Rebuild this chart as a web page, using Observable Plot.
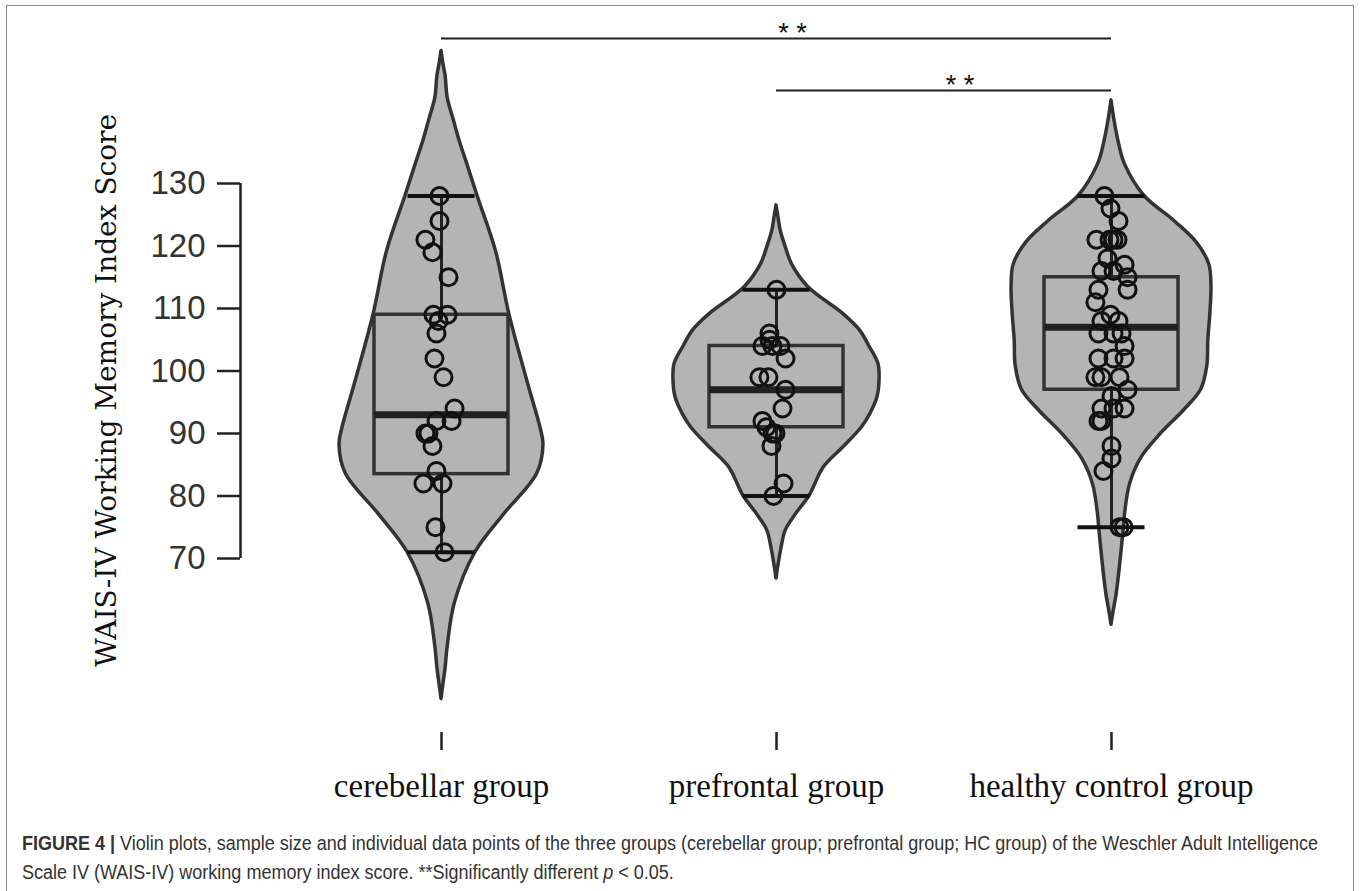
<!DOCTYPE html>
<html><head><meta charset="utf-8">
<script src="https://cdn.jsdelivr.net/npm/d3@7"></script>
<script src="https://cdn.jsdelivr.net/npm/@observablehq/plot@0.6"></script>
<style>
html,body{margin:0;padding:0;background:#fff;}
#frame{position:absolute;left:6px;top:5px;width:1348px;height:1000px;border:1.5px solid #888;box-sizing:border-box;}
#chart{position:absolute;left:0;top:0;}
#caption{position:absolute;left:22px;top:829px;width:1460px;font-family:"Liberation Sans",sans-serif;font-size:20px;line-height:29px;color:#333;white-space:nowrap;transform:scaleX(0.9);transform-origin:0 0;}
</style></head><body>
<div id="frame"></div>
<div id="chart"></div>
<div id="caption"><b>FIGURE 4 |</b> Violin plots, sample size and individual data points of the three groups (cerebellar group; prefrontal group; HC group) of the Weschler Adult Intelligence<br>Scale IV (WAIS-IV) working memory index score. **Significantly different <i>p</i> &lt; 0.05.</div>
<script>
// ---- data ----
const groups = ["cerebellar group", "prefrontal group", "healthy control group"];
const yTicks = [70, 80, 90, 100, 110, 120, 130];
const yTitle = "WAIS-IV Working Memory Index Score";

const cerebellarScores = [128,124,121,119,115,109,109,108,106,102,99,94,92,92,90,90,88,84,82,82,75,71];
const cerebellarJitter = [-0.006,-0.006,-0.048,-0.027,0.021,-0.024,0.018,-0.009,-0.015,-0.021,0.006,0.039,-0.015,0.030,-0.048,-0.039,-0.027,-0.015,-0.054,0.003,-0.018,0.009];

const prefrontalScores = [113,106,105,104,104,104,102,99,99,97,94,92,91,90,90,88,82,80];
const prefrontalJitter = [0,-0.021,-0.021,-0.042,-0.012,0.012,0.027,-0.051,-0.024,0.027,0.018,-0.042,-0.030,-0.012,-0.003,-0.015,0.021,-0.009];

const healthyScores = [128,126,124,121,121,121,121,118,117,116,116,115,113,113,111,109,108,108,106,106,106,104,102,102,102,99,99,99,97,96,94,94,94,92,92,88,86,84,75,75];
const healthyJitter = [-0.021,-0.003,0.021,-0.045,-0.006,0.018,0.006,-0.012,0.039,-0.030,0.006,0.048,-0.039,0.048,-0.048,-0.003,-0.030,0.021,-0.039,0.006,0.030,0.039,-0.039,0.006,0.039,-0.048,-0.030,0.024,0.048,0,-0.030,0.006,0.039,-0.039,-0.030,0,0,-0.024,0.024,0.036];

const boxQ1 = [83.5, 91, 97];
const boxMedian = [93, 97, 107];
const boxQ3 = [109, 104, 115];
const whiskerLow = [71, 80, 75];
const whiskerHigh = [128, 113, 128];

// violin outlines: score level and relative density (1 = widest)
const cerebellarDensityY = [151.2,149,147.2,143.7,140.1,136.6,133.1,128,119.1,109,98,91,88.2,83.6,76.9,71,62.9,55.9,52.5,50,47.5];
const cerebellarDensityW = [0,0.02,0.04,0.06,0.12,0.18,0.25,0.35,0.53,0.66,0.84,0.96,0.99,0.93,0.60,0.33,0.13,0.06,0.04,0.02,0];
const prefrontalDensityY = [126.5,124.5,122.5,119.8,117.1,113.4,109.1,106.5,104,101.1,98.4,95.8,93.1,91,87.8,84.6,80,77.1,74.5,71.8,69,66.8];
const prefrontalDensityW = [0,0.02,0.04,0.09,0.15,0.31,0.65,0.81,0.90,0.99,1.0,0.98,0.91,0.83,0.65,0.46,0.32,0.19,0.09,0.05,0.02,0];
const healthyDensityY = [143.3,140,136.6,133.1,128,124,120.5,117,113.5,109.3,105,100.8,97,93.8,89.6,86.1,81.9,76.9,75,70,64.3,61.5,59.4];
const healthyDensityW = [0,0.03,0.07,0.13,0.32,0.61,0.83,0.95,0.97,0.96,0.94,0.93,0.87,0.71,0.46,0.29,0.18,0.13,0.12,0.09,0.05,0.02,0];

const bracketFrom = [1, 2];
const bracketTo = [3, 3];
const bracketLevel = [153.2, 144.9];
const bracketLabel = ["* *", "* *"];

// ---- tables ----
const scores = [cerebellarScores, prefrontalScores, healthyScores];
const jitters = [cerebellarJitter, prefrontalJitter, healthyJitter];
const densY = [cerebellarDensityY, prefrontalDensityY, healthyDensityY];
const densW = [cerebellarDensityW, prefrontalDensityW, healthyDensityW];

const points = groups.flatMap((g, i) => scores[i].map((s, j) => ({g: i + 1, score: s, jit: jitters[i][j]})));
const violin = groups.flatMap((g, i) => densY[i].map((v, j) => ({g: i + 1, v, w: densW[i][j]})));
const boxes = groups.map((g, i) => ({g: i + 1, q1: boxQ1[i], med: boxMedian[i], q3: boxQ3[i], lo: whiskerLow[i], hi: whiskerHigh[i]}));
const brackets = bracketFrom.map((f, i) => ({from: f, to: bracketTo[i], level: bracketLevel[i], label: bracketLabel[i]}));

// ---- styling constants ----
const xDomain = [0.4, 3.6];
const VW = 0.3075;  // violin max half width (x units)
const BW = 0.2;     // box half width
const CW = 0.1;     // whisker cap half width

const chart = Plot.plot({
  width: 1360,
  height: 830,
  marginLeft: 240,
  marginRight: 48,
  marginTop: 0,
  marginBottom: 98,
  style: {fontFamily: "Liberation Serif", background: "transparent", color: "#222"},
  x: {type: "linear", domain: xDomain},
  y: {type: "linear", domain: [42.16, 159.28]},
  marks: [
    Plot.areaX(violin, {y: "v", x1: d => d.g - VW * d.w, x2: d => d.g + VW * d.w, z: "g",
      fill: "#b4b4b4", stroke: "#333", strokeWidth: 3.5, curve: "catmull-rom"}),
    Plot.rect(boxes, {x1: d => d.g - BW, x2: d => d.g + BW, y1: "q1", y2: "q3",
      fill: "none", stroke: "#333", strokeWidth: 3.5}),
    Plot.ruleX(boxes, {x: "g", y1: "q3", y2: "hi", stroke: "#222", strokeWidth: 3}),
    Plot.ruleX(boxes, {x: "g", y1: "lo", y2: "q1", stroke: "#222", strokeWidth: 3}),
    Plot.ruleY(boxes, {y: "hi", x1: d => d.g - CW, x2: d => d.g + CW, stroke: "#111", strokeWidth: 4}),
    Plot.ruleY(boxes, {y: "lo", x1: d => d.g - CW, x2: d => d.g + CW, stroke: "#111", strokeWidth: 4}),
    Plot.ruleY(boxes, {y: "med", x1: d => d.g - BW, x2: d => d.g + BW, stroke: "#222", strokeWidth: 7}),
    Plot.dot(points, {x: d => d.g + d.jit, y: "score", r: 8.5, stroke: "#111", strokeWidth: 3, fill: "none"}),
    // significance brackets
    Plot.ruleY(brackets, {y: "level", x1: "from", x2: "to", stroke: "#222", strokeWidth: 2}),
    Plot.text(brackets, {x: d => (d.from + d.to) / 2, y: "level", text: "label", dx: 16, dy: -5,
      fontSize: 27, fontFamily: "Liberation Sans", fill: "#111"}),
    // y axis
    Plot.ruleX([xDomain[0]], {y1: d3.min(yTicks), y2: d3.max(yTicks), stroke: "#222", strokeWidth: 2.5}),
    Plot.axisY({ticks: yTicks, tickSize: 23, tickPadding: 12, fontSize: 33, fontFamily: "Liberation Sans",
      stroke: "#222", strokeWidth: 2.5, fill: "#333", label: null}),
    Plot.text([yTitle], {frameAnchor: "left", textAnchor: "middle", rotate: -90, dx: -133, dy: 24, fontSize: 28,
      fontFamily: "DejaVu Serif", fill: "#111"}),
    // x axis
    Plot.axisX({ticks: [1, 2, 3], tickFormat: d => groups[d - 1], tickSize: 18, tickPadding: 23,
      fontSize: 33, fontFamily: "Liberation Serif", stroke: "#222", strokeWidth: 2.5, fill: "#111", label: null})
  ]
});
document.getElementById("chart").appendChild(chart);
</script>
</body></html>
